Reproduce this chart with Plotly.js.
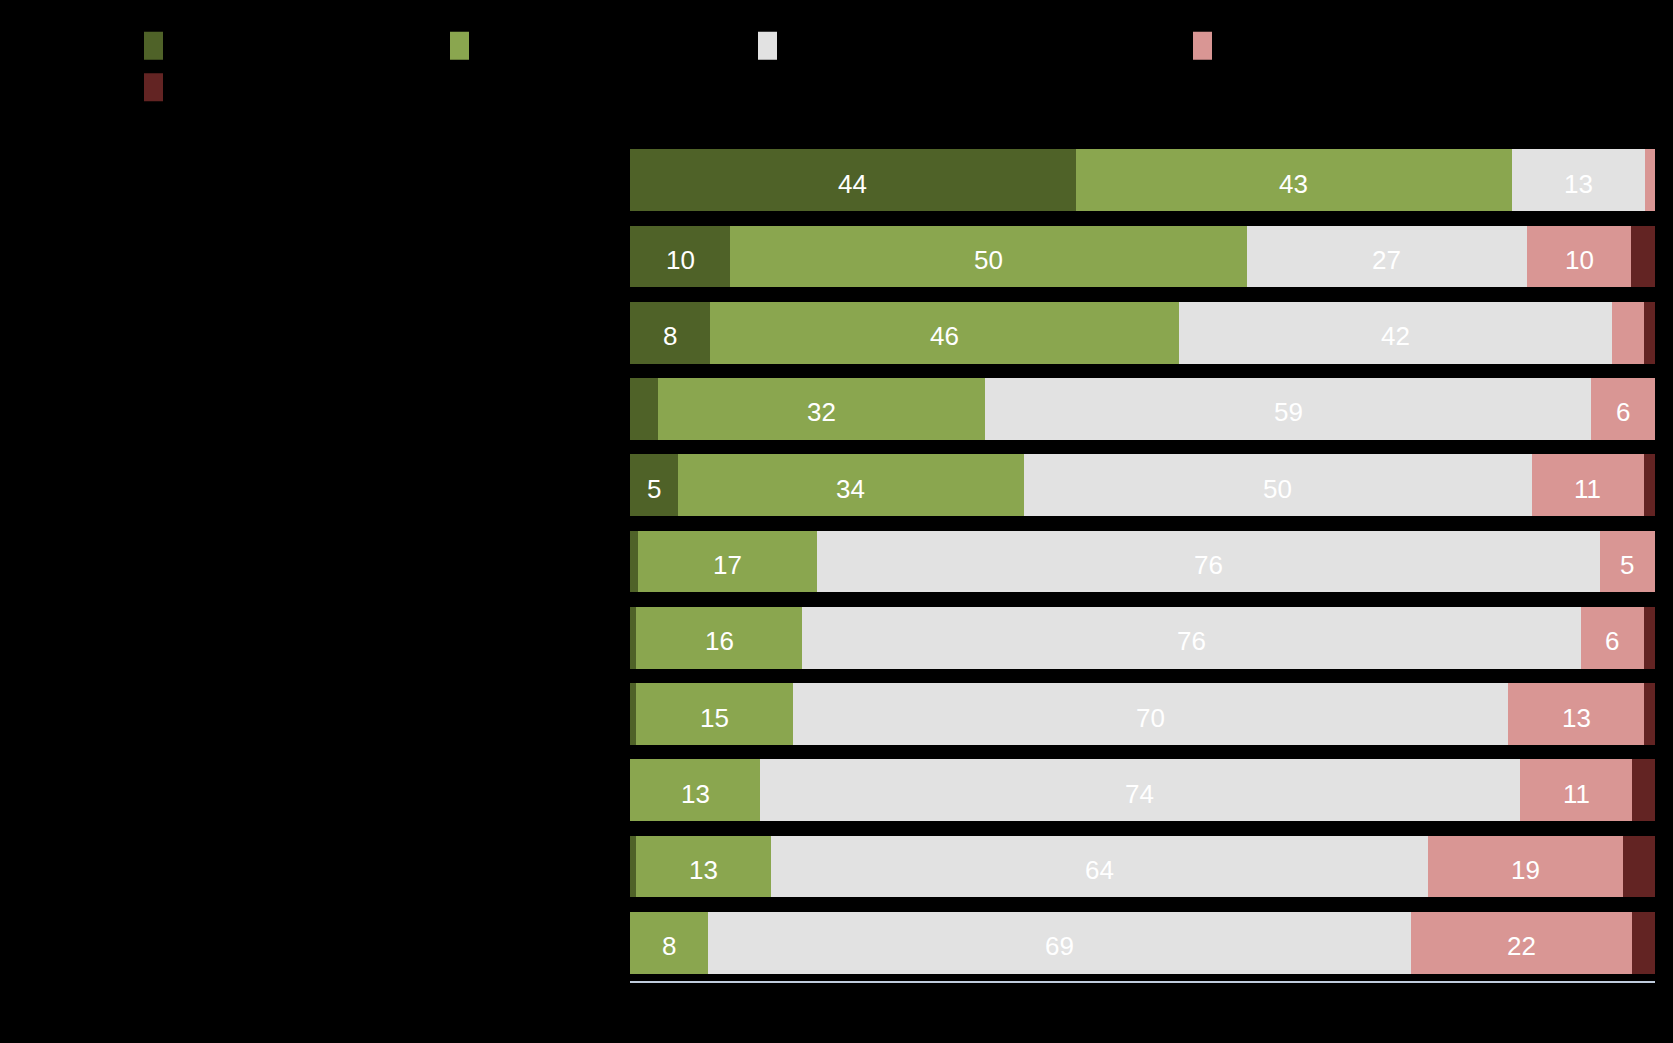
<!DOCTYPE html>
<html>
<head>
<meta charset="utf-8">
<script src="https://cdn.plot.ly/plotly-3.0.1.min.js"></script>
<style>
  html, body { margin: 0; padding: 0; background: #000; }
  #chart { width: 1673px; height: 1043px; }
</style>
</head>
<body>
<div id="chart"></div>
<script>
// ---- data (top row first) ----
const categories = [
  "Statement 1", "Statement 2", "Statement 3", "Statement 4", "Statement 5",
  "Statement 6", "Statement 7", "Statement 8", "Statement 9", "Statement 10", "Statement 11"
];
const seriesNames = [
  "Strongly agree", "Somewhat agree", "Neither agree nor disagree",
  "Somewhat disagree", "Strongly disagree"
];
const stronglyAgree    = [43.5,  9.8,  7.8,  2.7,  4.7,  0.8,  0.6,  0.6,  0.0,  0.6,  0.0];
const somewhatAgree    = [42.5, 50.4, 45.8, 31.9, 33.7, 17.4, 16.2, 15.3, 12.7, 13.2,  7.6];
const neutral          = [13.0, 27.3, 42.2, 59.2, 49.6, 76.4, 76.0, 69.8, 74.1, 64.1, 68.6];
const somewhatDisagree = [ 1.0, 10.2,  3.1,  6.2, 10.9,  5.4,  6.1, 13.2, 11.0, 19.0, 21.6];
const stronglyDisagree = [ 0.0,  2.3,  1.1,  0.0,  1.1,  0.0,  1.1,  1.1,  2.2,  3.1,  2.2];

const seriesValues = [stronglyAgree, somewhatAgree, neutral, somewhatDisagree, stronglyDisagree];
const colors = ["#4f6228", "#8aa64f", "#e2e2e2", "#d99694", "#632423"];
const legendWidths = [261, 263, 390, 300, 300];
const legendIds = ["legend", "legend", "legend", "legend", "legend2"];
const LABEL_MIN = 4;

const traces = seriesValues.map((vals, i) => ({
  type: "bar",
  orientation: "h",
  name: seriesNames[i],
  y: categories,
  x: vals,
  marker: { color: colors[i], line: { width: 0 } },
  legend: legendIds[i],
  legendwidth: legendWidths[i],
  hoverinfo: "skip"
}));

// value labels, centred in each stacked segment (positions come from the data via the axes)
const annotations = [];
categories.forEach((cat, j) => {
  let base = 0;
  seriesValues.forEach(vals => {
    const v = vals[j];
    if (v >= LABEL_MIN) {
      annotations.push({
        xref: "x", yref: "y",
        x: base + v / 2, y: cat,
        text: String(Math.round(v)),
        showarrow: false,
        yshift: -3.5,
        font: { family: "Liberation Sans, Arial, sans-serif", size: 26, color: "#ffffff" }
      });
    }
    base += v;
  });
});

const plotH = 1043 - 142 - 62;
const layout = {
  width: 1673,
  height: 1043,
  paper_bgcolor: "#000000",
  plot_bgcolor: "#000000",
  barmode: "stack",
  bargap: 0.19,
  margin: { l: 630, r: 18, t: 142, b: 62, pad: 0 },
  font: { family: "Liberation Sans, Arial, sans-serif", color: "#000000" },
  showlegend: true,
  legend: {
    orientation: "h",
    x: (133.5 - 630) / 1025, xanchor: "left",
    y: 1 + (142 - 25) / plotH, yanchor: "top",
    font: { size: 22, color: "#000000" },
    bgcolor: "rgba(0,0,0,0)",
    traceorder: "normal"
  },
  legend2: {
    orientation: "h",
    x: (133.5 - 630) / 1025, xanchor: "left",
    y: 1 + (142 - 66.5) / plotH, yanchor: "top",
    font: { size: 22, color: "#000000" },
    bgcolor: "rgba(0,0,0,0)"
  },
  xaxis: {
    range: [0, 100],
    showticklabels: false,
    showgrid: false,
    zeroline: false,
    showline: true,
    linecolor: "#bfcbdc",
    linewidth: 2,
    ticks: ""
  },
  yaxis: {
    type: "category",
    autorange: "reversed",
    showgrid: false,
    zeroline: false,
    showline: false,
    ticks: "",
    tickfont: { size: 22, color: "#000000" }
  },
  annotations: annotations,
  hovermode: false
};

Plotly.newPlot("chart", traces, layout, { displayModeBar: false, staticPlot: true }).then(gd => {
  // enlarge legend swatches to tall rectangles like the reference
  gd.querySelectorAll(".legendpoints path").forEach(p => {
    p.setAttribute("d", "M9.5,14H-9.5V-14H9.5Z");
  });
});
</script>
</body>
</html>
